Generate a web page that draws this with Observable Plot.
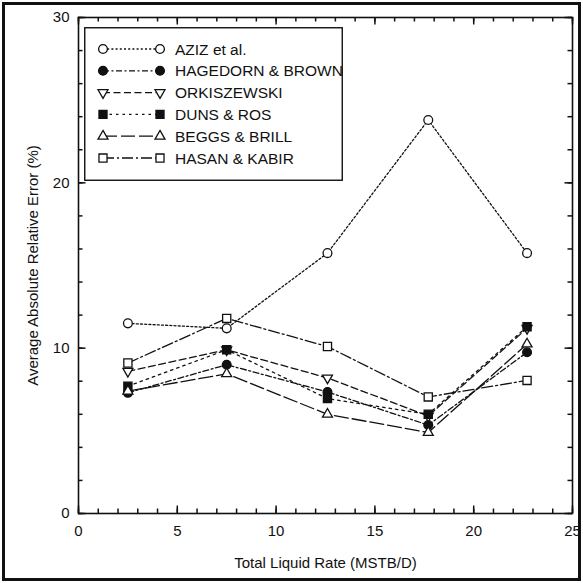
<!DOCTYPE html>
<html><head><meta charset="utf-8">
<script src="https://cdn.jsdelivr.net/npm/d3@7"></script>
<script src="https://cdn.jsdelivr.net/npm/@observablehq/plot@0.6"></script>
<style>
body{margin:0;background:#fff}
#wrap{position:relative;width:583px;height:583px;overflow:hidden}
#border{position:absolute;left:2px;top:2px;width:573px;height:573px;border:3px solid #111;pointer-events:none}
#legend{position:absolute;left:84px;top:27px}
</style></head><body><div id="wrap"><div id="border"></div></div>
<script>
// ---- data ----
const rates = [2.5, 7.5, 12.6, 17.7, 22.7];
const seriesNames = ["AZIZ et al.", "HAGEDORN & BROWN", "ORKISZEWSKI", "DUNS & ROS", "BEGGS & BRILL", "HASAN & KABIR"];
const aziz      = [11.5, 11.2, 15.75, 23.8, 15.75];
const hagedorn  = [7.3, 9.0, 7.35, 5.35, 9.75];
const orkiszewski = [8.6, 9.9, 8.2, 5.9, 11.2];
const dunsRos   = [7.7, 9.9, 6.95, 6.0, 11.3];
const beggsBrill = [7.4, 8.45, 6.0, 4.9, 10.25];
const hasanKabir = [9.1, 11.8, 10.1, 7.05, 8.05];
const xMajorTicks = [0, 5, 10, 15, 20, 25];
const yMajorTicks = [0, 10, 20, 30];
const xMinorTicks = d3.range(0, 26, 1);
const yMinorTicks = d3.range(0, 31, 2);
const xLabel = "Total Liquid Rate (MSTB/D)";
const yLabel = "Average Absolute Relative Error (%)";

// ---- styles ----
const ink = "#111";
const seriesValues = [aziz, hagedorn, orkiszewski, dunsRos, beggsBrill, hasanKabir];
const styles = [
  {dash: "2,2.2", symbol: "circle", fill: "white", rotate: 0, r: 4.4},
  {dash: "6,2.5,2,2.5", symbol: "circle", fill: ink, rotate: 0, r: 4.4},
  {dash: "7,3.5", symbol: "triangle", fill: "white", rotate: 180, r: 3.7},
  {dash: "2.5,4", symbol: "square", fill: ink, rotate: 0, r: 4.6},
  {dash: "14,4", symbol: "triangle", fill: "white", rotate: 0, r: 3.7},
  {dash: "11,3,2,3", symbol: "square", fill: "white", rotate: 0, r: 4.6}
];

const tables = seriesValues.map((vals, i) => vals.map((v, j) => ({rate: rates[j], value: v, series: seriesNames[i]})));

const lineMarks = tables.map((t, i) => Plot.line(t, {x: "rate", y: "value", stroke: ink, strokeWidth: 1.3, strokeDasharray: styles[i].dash}));
const dotMarks = tables.map((t, i) => Plot.dot(t, {x: "rate", y: "value", symbol: styles[i].symbol, r: styles[i].r, rotate: styles[i].rotate, stroke: ink, strokeWidth: 1.3, fill: styles[i].fill}));

// ---- layout ----
const W = 583, H = 583, mL = 78, mR = 11, mT = 17, mB = 70;
const xMin = 0, xMax = 25, yMin = 0, yMax = 30;
// tick lengths (px) converted to data units so the ticks point inward from the frame
const pxX = (xMax - xMin) / (W - mL - mR), pxY = (yMax - yMin) / (H - mT - mB);
const minorLen = 4.5, majorLen = 7.5;
const tickOpts = {stroke: ink, strokeWidth: 1.5};
const xTickRules = (ticks, len) => [
  Plot.ruleX(ticks, {x: d => d, y1: yMin, y2: yMin + len * pxY, ...tickOpts}),
  Plot.ruleX(ticks, {x: d => d, y1: yMax, y2: yMax - len * pxY, ...tickOpts})
];
const yTickRules = (ticks, len) => [
  Plot.ruleY(ticks, {y: d => d, x1: xMin, x2: xMin + len * pxX, ...tickOpts}),
  Plot.ruleY(ticks, {y: d => d, x1: xMax, x2: xMax - len * pxX, ...tickOpts})
];

const chart = Plot.plot({
  width: W, height: H,
  marginLeft: mL, marginRight: mR, marginTop: mT, marginBottom: mB,
  style: {fontFamily: "'Liberation Sans', Arial, sans-serif", fontSize: "15px", color: ink, background: "transparent", overflow: "visible"},
  x: {domain: [xMin, xMax]},
  y: {domain: [yMin, yMax]},
  marks: [
    Plot.axisX({ticks: xMajorTicks, tickSize: 0, tickPadding: 12, tickFormat: d3.format("d"), label: xLabel, labelAnchor: "center", labelArrow: "none", labelOffset: 54, fill: ink}),
    Plot.axisY({ticks: yMajorTicks, tickSize: 0, tickPadding: 9, tickFormat: d3.format("d"), label: yLabel, labelAnchor: "center", labelArrow: "none", labelOffset: 51, fill: ink}),
    ...xTickRules(xMinorTicks, minorLen),
    ...xTickRules(xMajorTicks, majorLen),
    ...yTickRules(yMinorTicks, minorLen),
    ...yTickRules(yMajorTicks, majorLen),
    ...lineMarks,
    ...dotMarks,
    Plot.frame({stroke: ink, strokeWidth: 1.6})
  ]
});
const wrap = document.getElementById("wrap");
wrap.insertBefore(chart, wrap.firstChild);

// ---- legend (inset box) ----
const lw = 259, lh = 154;
const leg = d3.select(wrap).append("svg").attr("id", "legend").attr("width", lw).attr("height", lh)
  .style("font-family", "'Liberation Sans', Arial, sans-serif").style("font-size", "15.5px");
leg.append("rect").attr("x", 0.75).attr("y", 0.75).attr("width", lw - 1.5).attr("height", lh - 1.5)
  .attr("fill", "white").attr("stroke", ink).attr("stroke-width", 1.4);
const rowY = d3.scalePoint().domain(seriesNames).range([22, 131]);
const symbolFor = {circle: d3.symbolCircle, square: d3.symbolSquare, triangle: d3.symbolTriangle};
seriesNames.forEach((name, i) => {
  const y = rowY(name), st = styles[i];
  const g = leg.append("g");
  g.append("line").attr("x1", 19).attr("x2", 76).attr("y1", y).attr("y2", y)
    .attr("stroke", ink).attr("stroke-width", 1.3).attr("stroke-dasharray", st.dash);
  const area = st.symbol === "square" ? (st.r * 1.75) ** 2 : Math.PI * st.r * st.r;
  const path = d3.symbol(symbolFor[st.symbol], area)();
  [19, 76].forEach(x => {
    g.append("path").attr("d", path).attr("transform", `translate(${x},${y}) rotate(${st.rotate})`)
      .attr("fill", st.fill).attr("stroke", ink).attr("stroke-width", 1.3);
  });
  g.append("text").attr("x", 91).attr("y", y).attr("dy", "0.36em").attr("fill", ink).text(name);
});
</script>
</body></html>
